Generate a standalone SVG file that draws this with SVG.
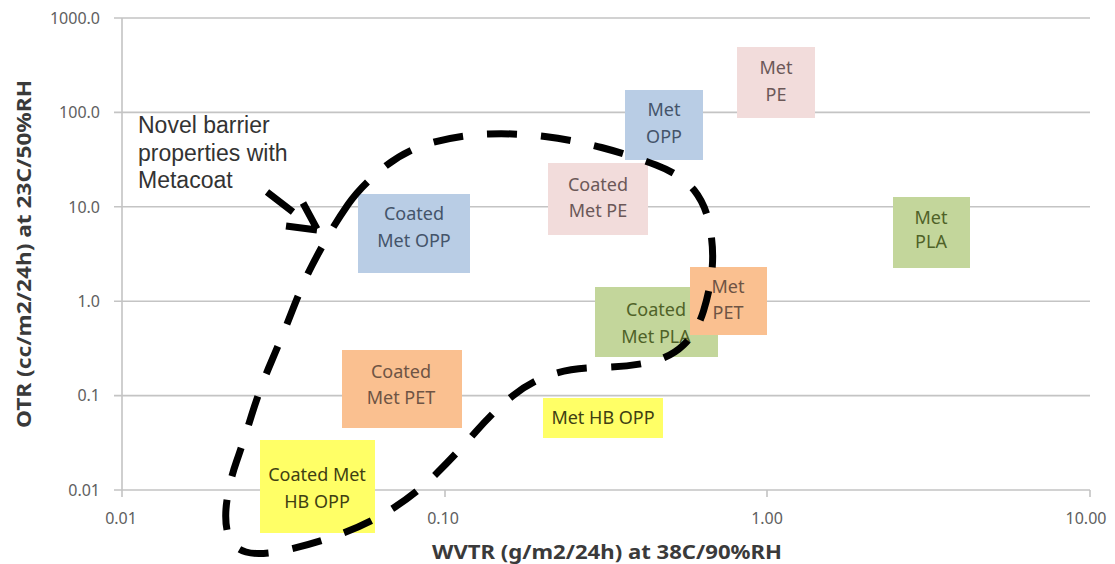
<svg xmlns="http://www.w3.org/2000/svg" width="1115" height="564" viewBox="0 0 1115 564">
<style>
.grid{stroke:#c4c4c4;stroke-width:1.6;fill:none}
.tick{font-family:"Noto Sans","Liberation Sans",sans-serif;font-size:16px;fill:#606060}
.axt{font-family:"Noto Sans","Liberation Sans",sans-serif;font-size:20px;font-weight:bold;fill:#3a3a3a}
.lbl{font-family:"Noto Sans","Liberation Sans",sans-serif;font-size:18px;text-anchor:middle}
.blue rect{fill:#b9cde5}.blue text{fill:#44546a}
.pink rect{fill:#f2dcdb}.pink text{fill:#6b5858}
.green rect{fill:#c3d69b}.green text{fill:#4f6228}
.orange rect{fill:#fac090}.orange text{fill:#6e5444}
.yellow rect{fill:#ffff66}.yellow text{fill:#3f3f12}
.dash{fill:none;stroke:#000;stroke-width:7;stroke-dasharray:30 24}
.arr{fill:none;stroke:#000;stroke-width:7}
.note{font-family:"Liberation Sans",Arial,sans-serif;font-size:23px;fill:#333}
</style>
<rect width="1115" height="564" fill="#fff"/>
<g id="axes">
<path class="grid" d="M122,18H1090M122,112.4H1090M122,206.8H1090M122,301.2H1090M122,395.6H1090M122,490H1090M122,18V490M114,18H122M114,112.4H122M114,206.8H122M114,301.2H122M114,395.6H122M114,490H122M122,490V497M445,490V497M767,490V497M1090,490V497"/>
<g class="tick" text-anchor="end">
<text x="100" y="24">1000.0</text>
<text x="100" y="118">100.0</text>
<text x="100" y="213">10.0</text>
<text x="100" y="307">1.0</text>
<text x="100" y="401">0.1</text>
<text x="100" y="496">0.01</text>
</g>
<g class="tick" text-anchor="middle">
<text x="121" y="524">0.01</text>
<text x="443" y="524">0.10</text>
<text x="767" y="524">1.00</text>
<text x="1086" y="524">10.00</text>
</g>
<text class="axt" x="432" y="559" textLength="350" lengthAdjust="spacingAndGlyphs">WVTR (g/m2/24h) at 38C/90%RH</text>
<text class="axt" transform="translate(31,254) rotate(-90)" text-anchor="middle" textLength="348" lengthAdjust="spacingAndGlyphs">OTR (cc/m2/24h) at 23C/50%RH</text>
</g>
<g id="met-pe" class="pink"><rect x="737" y="47" width="78" height="71"/><text class="lbl" x="776" y="74">Met</text><text class="lbl" x="776" y="101">PE</text></g>
<g id="met-opp" class="blue"><rect x="625" y="90" width="78" height="70"/><text class="lbl" x="664" y="116">Met</text><text class="lbl" x="664" y="143">OPP</text></g>
<g id="coated-met-pe" class="pink"><rect x="548" y="163" width="100" height="72"/><text class="lbl" x="598" y="191">Coated</text><text class="lbl" x="598" y="217">Met PE</text></g>
<g id="coated-met-opp" class="blue"><rect x="358" y="194" width="112" height="79"/><text class="lbl" x="414" y="220">Coated</text><text class="lbl" x="414" y="247">Met OPP</text></g>
<g id="met-pla" class="green"><rect x="893" y="197" width="77" height="71"/><text class="lbl" x="931" y="224">Met</text><text class="lbl" x="931" y="248">PLA</text></g>
<g id="coated-met-pla" class="green"><rect x="595" y="287" width="123" height="70"/><text class="lbl" x="656" y="316">Coated</text><text class="lbl" x="656" y="343">Met PLA</text></g>
<g id="met-pet" class="orange"><rect x="690" y="267" width="77" height="68"/><text class="lbl" x="728" y="293">Met</text><text class="lbl" x="728" y="319">PET</text></g>
<g id="coated-met-pet" class="orange"><rect x="342" y="350" width="120" height="78"/><text class="lbl" x="401" y="378">Coated</text><text class="lbl" x="401" y="404">Met PET</text></g>
<g id="met-hb-opp" class="yellow"><rect x="543" y="398" width="120" height="40"/><text class="lbl" x="603" y="424">Met HB OPP</text></g>
<g id="coated-met-hb-opp" class="yellow"><rect x="260" y="440" width="115" height="93"/><text class="lbl" x="317" y="481">Coated Met</text><text class="lbl" x="317" y="508">HB OPP</text></g>
<g id="note"><text class="note" x="138" y="133">Novel barrier</text><text class="note" x="138" y="161">properties with</text><text class="note" x="138" y="188">Metacoat</text></g>
<g id="connectors">
<path class="dash" d="M348,204.5 Q360,187 382.5,168.5 Q405,150 432.5,142.5 Q460,135 488.5,134 Q517,133 545,136.5 Q573,140 601.5,147.5 Q630,155 656,165 Q682,175 694,190 Q706,205 710,227.5 Q714,250 712,270 Q710,290 703.5,311 Q697,332 683.5,345 Q670,358 648.5,362.5 Q627,367 598.5,367.5 Q570,368 550,375 Q530,382 512.5,396 Q495,410 476,431.5 Q457,453 437,473 Q417,493 393.5,508 Q370,523 343.5,533 Q317,543 288.5,549.5 Q260,556 246,552 Q232,548 228,534 Q224,520 227,500 Q230,480 236.5,461.5 Q243,443 251.5,415.5 Q260,388 271,362.5 Q282,337 292.5,310 Q303,283 311.5,266.5 Q320,250 328,236 Q336,222 348,204.5"/>
<path class="arr" d="M267,192L293,212M303,203L317,229M286,226L317,230"/>
</g>
</svg>
